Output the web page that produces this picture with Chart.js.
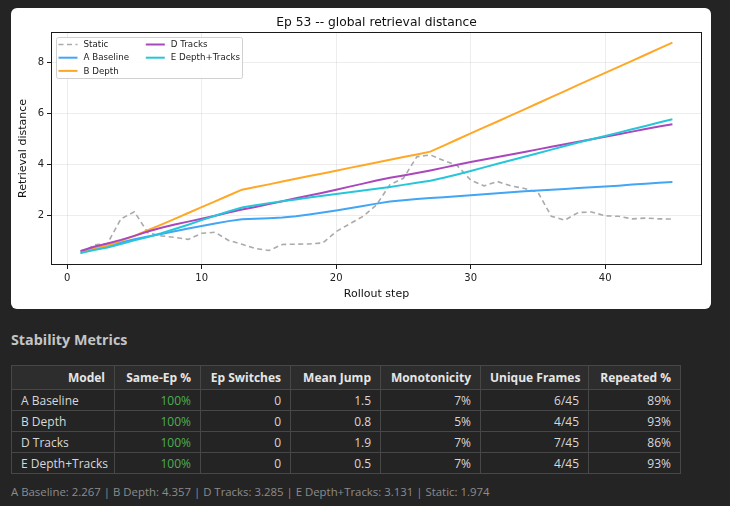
<!DOCTYPE html>
<html>
<head>
<meta charset="utf-8">
<title>Ep 53 -- global retrieval distance</title>
<script src="https://cdn.jsdelivr.net/npm/chart.js@4.4.1/dist/chart.umd.min.js"></script>
<style>
  body { margin: 0; background: #242424; font-family: "Open Sans", "Noto Sans", sans-serif; }
  #card { position: absolute; left: 11px; top: 8px; width: 700px; height: 301px;
          background: #fff; border-radius: 6px; overflow: hidden; }
  #card canvas { display: block; }
  h3 { position: absolute; left: 11px; top: 330px; margin: 0; font-size: 14.3px;
       line-height: 20px; font-weight: 700; color: #c4c4c4; }
  table { position: absolute; left: 11px; top: 365px; width: 669px; border-collapse: collapse;
          font-size: 12px; color: #d8d8d8; table-layout: fixed; }
  th, td { border: 1px solid #474747; padding: 0 9px; text-align: right; white-space: nowrap; overflow: hidden; }
  th { height: 23px; background: #2d2d2d; font-weight: 700; color: #e6e6e6; }
  td { height: 20px; }
  td.name { text-align: left; }
  td.ok { color: #4caf50; }
  #foot { position: absolute; left: 11px; top: 484px; font-size: 11.4px; color: #8c8c8c; }
</style>
</head>
<body>
<div id="card"><canvas id="chart" width="700" height="301"></canvas></div>
<h3>Stability Metrics</h3>
<table id="metrics"></table>
<div id="foot"></div>
<script>
// rollout steps and per-model retrieval distance
const steps = [1,2,3,4,5,6,7,8,9,10,11,12,13,14,15,16,17,18,19,20,21,22,23,24,25,
               26,27,28,29,30,31,32,33,34,35,36,37,38,39,40,41,42,43,44,45];

const staticDist = [0.48,0.82,0.88,1.85,2.13,1.30,1.18,1.12,1.04,1.28,1.32,1.00,0.85,0.68,0.60,
                    0.84,0.85,0.86,0.90,1.35,1.65,1.95,2.40,3.20,3.45,4.30,4.37,4.15,3.95,3.38,
                    3.15,3.32,3.15,3.05,2.90,1.95,1.80,2.10,2.12,1.97,1.95,1.85,1.88,1.85,1.84];
const baseline = [0.55,0.68,0.78,0.92,1.05,1.15,1.25,1.36,1.47,1.57,1.67,1.76,1.83,1.85,1.87,
                  1.90,1.95,2.02,2.10,2.18,2.27,2.36,2.45,2.53,2.58,2.63,2.67,2.70,2.74,2.78,
                  2.82,2.86,2.90,2.94,2.97,3.00,3.03,3.07,3.10,3.13,3.16,3.20,3.23,3.27,3.30];
const depth = [0.55,0.68,0.80,0.98,1.18,1.40,1.62,1.85,2.08,2.31,2.54,2.77,3.00,3.11,3.21,
               3.32,3.43,3.54,3.64,3.75,3.86,3.96,4.07,4.18,4.29,4.39,4.50,4.74,4.98,5.22,
               5.46,5.69,5.93,6.17,6.41,6.65,6.89,7.13,7.37,7.61,7.84,8.08,8.32,8.56,8.80];
const tracks = [0.58,0.75,0.88,1.02,1.18,1.35,1.50,1.63,1.74,1.85,1.97,2.10,2.22,2.32,2.43,
                2.54,2.66,2.77,2.88,3.00,3.12,3.24,3.36,3.47,3.56,3.66,3.76,3.87,3.98,4.09,
                4.19,4.29,4.39,4.49,4.59,4.69,4.79,4.89,4.99,5.09,5.19,5.29,5.39,5.49,5.58];
const depthTracks = [0.50,0.62,0.72,0.86,1.00,1.13,1.28,1.45,1.62,1.80,1.97,2.14,2.30,2.39,2.47,
                     2.54,2.61,2.69,2.76,2.83,2.90,2.97,3.04,3.11,3.19,3.27,3.35,3.47,3.60,3.74,
                     3.88,4.02,4.16,4.30,4.44,4.58,4.72,4.86,4.99,5.12,5.25,5.38,5.51,5.65,5.78];

const xTicks = [0, 10, 20, 30, 40];
const yTicks = [2, 4, 6, 8];

// stability table
const models = ['A Baseline', 'B Depth', 'D Tracks', 'E Depth+Tracks'];
const sameEp = ['100%', '100%', '100%', '100%'];
const epSwitches = ['0', '0', '0', '0'];
const meanJump = ['1.5', '0.8', '1.9', '0.5'];
const monotonicity = ['7%', '5%', '7%', '7%'];
const uniqueFrames = ['6/45', '4/45', '7/45', '4/45'];
const repeatedPct = ['89%', '93%', '86%', '93%'];
const meanNames = ['A Baseline', 'B Depth', 'D Tracks', 'E Depth+Tracks', 'Static'];
const meanValues = ['2.267', '4.357', '3.285', '3.131', '1.974'];

const font = '"DejaVu Sans", sans-serif';

function series(label, values, color, order, dash) {
  return {
    label: label,
    data: steps.map((s, i) => ({ x: s, y: values[i] })),
    borderColor: color,
    backgroundColor: color,
    borderWidth: dash ? 1.6 : 2,
    borderDash: dash || [],
    pointRadius: 0,
    tension: 0,
    order: order
  };
}

// axes frame like matplotlib spines
const frame = {
  id: 'frame',
  afterDatasetsDraw(chart) {
    const { ctx, chartArea: a } = chart;
    ctx.save();
    ctx.strokeStyle = '#1a1a1a';
    ctx.lineWidth = 1;
    ctx.strokeRect(Math.round(a.left) + 0.5, Math.round(a.top) + 0.5,
                   Math.round(a.right - a.left) - 1, Math.round(a.bottom - a.top) - 1);
    ctx.restore();
  }
};

// two-column legend inside the upper-left corner
const insideLegend = {
  id: 'insideLegend',
  afterDraw(chart) {
    const { ctx, chartArea: a } = chart;
    const x0 = Math.round(a.left) + 5, y0 = Math.round(a.top) + 5;
    ctx.save();
    ctx.fillStyle = 'rgba(255,255,255,0.85)';
    ctx.strokeStyle = '#d0d0d0';
    ctx.lineWidth = 1;
    ctx.beginPath();
    ctx.roundRect(x0 + 0.5, y0 + 0.5, 186, 41, 2);
    ctx.fill();
    ctx.stroke();
    ctx.font = '8.7px ' + font;
    ctx.textBaseline = 'middle';
    chart.data.datasets.forEach((ds, i) => {
      const col = i < 3 ? 0 : 1;
      const row = i < 3 ? i : i - 3;
      const lx = x0 + 2.5 + col * 87.3;
      const ly = y0 + 7.5 + row * 13.2;
      ctx.strokeStyle = ds.borderColor;
      ctx.lineWidth = ds.borderWidth;
      ctx.setLineDash(ds.borderDash);
      ctx.beginPath();
      ctx.moveTo(lx, ly);
      ctx.lineTo(lx + 19, ly);
      ctx.stroke();
      ctx.setLineDash([]);
      ctx.fillStyle = '#222';
      ctx.fillText(ds.label, lx + 25, ly + 0.5);
    });
    ctx.restore();
  }
};

new Chart(document.getElementById('chart'), {
  type: 'line',
  data: {
    datasets: [
      series('Static', staticDist, '#aaaaaa', 5, [5, 3.5]),
      series('A Baseline', baseline, '#42a5f5', 4),
      series('B Depth', depth, '#ffa726', 3),
      series('D Tracks', tracks, '#ab47bc', 2),
      series('E Depth+Tracks', depthTracks, '#26c6da', 1)
    ]
  },
  options: {
    responsive: false,
    animation: false,
    layout: { padding: { left: 0, right: 9, top: 0, bottom: 0 } },
    plugins: {
      legend: { display: false },
      tooltip: { enabled: false },
      title: {
        display: true,
        text: 'Ep 53 -- global retrieval distance',
        fullSize: false,
        color: '#111',
        font: { family: font, size: 12.3, weight: 'normal', lineHeight: 1.2 },
        padding: { top: 7, bottom: 2.2 }
      }
    },
    scales: {
      x: {
        type: 'linear',
        min: -1.2,
        max: 47.2,
        afterBuildTicks: s => { s.ticks = xTicks.map(v => ({ value: v })); },
        afterFit: s => { s.height = 44; },
        border: { display: false },
        grid: { color: 'rgba(0,0,0,0.07)', tickColor: '#1a1a1a', tickLength: 4, lineWidth: 1 },
        ticks: { color: '#222', padding: 3, maxRotation: 0, font: { family: font, size: 10 } },
        title: {
          display: true, text: 'Rollout step', color: '#111',
          font: { family: font, size: 11, lineHeight: 1.2 }, padding: { top: 0, bottom: 8 }
        }
      },
      y: {
        type: 'linear',
        min: 0.03,
        max: 9.22,
        afterBuildTicks: s => { s.ticks = yTicks.map(v => ({ value: v })); },
        afterFit: s => { s.width = 40; },
        border: { display: false },
        grid: { color: 'rgba(0,0,0,0.07)', tickColor: '#1a1a1a', tickLength: 4, lineWidth: 1 },
        ticks: { color: '#222', padding: 3, font: { family: font, size: 10 } },
        title: {
          display: true, text: 'Retrieval distance', color: '#111',
          font: { family: font, size: 11, lineHeight: 1.2 }, padding: { top: 5.5, bottom: 0 }
        }
      }
    }
  },
  plugins: [frame, insideLegend]
});

// table
const colWidths = [103, 86, 90, 90, 100, 108, 92];
const headers = ['Model', 'Same-Ep %', 'Ep Switches', 'Mean Jump', 'Monotonicity', 'Unique Frames', 'Repeated %'];
let html = '<colgroup>' + colWidths.map(w => `<col style="width:${w}px">`).join('') + '</colgroup>';
html += '<tr>' + headers.map(h => `<th>${h}</th>`).join('') + '</tr>';
models.forEach((m, i) => {
  html += '<tr>' +
    `<td class="name">${m}</td>` +
    `<td class="ok">${sameEp[i]}</td>` +
    `<td>${epSwitches[i]}</td>` +
    `<td>${meanJump[i]}</td>` +
    `<td>${monotonicity[i]}</td>` +
    `<td>${uniqueFrames[i]}</td>` +
    `<td>${repeatedPct[i]}</td>` +
    '</tr>';
});
document.getElementById('metrics').innerHTML = html;
document.getElementById('foot').textContent =
  meanNames.map((n, i) => `${n}: ${meanValues[i]}`).join(' | ');
</script>
</body>
</html>
